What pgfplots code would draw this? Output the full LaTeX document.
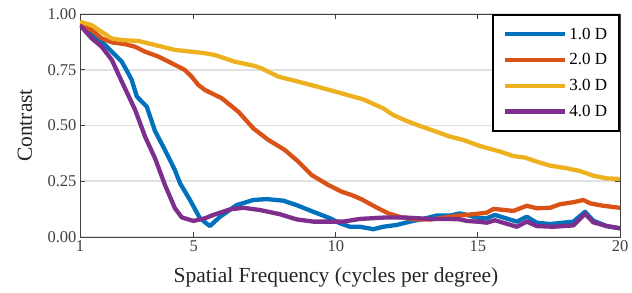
\documentclass[border=0pt]{standalone}
\usepackage{fontspec}
\setmainfont{Liberation Serif}
\usepackage{pgfplots}
\pgfplotsset{compat=1.18}
\definecolor{mblue}{rgb}{0,0.447,0.741}
\definecolor{morange}{rgb}{0.851,0.325,0.098}
\definecolor{myellow}{rgb}{0.929,0.694,0.125}
\definecolor{mpurple}{rgb}{0.494,0.184,0.556}
\definecolor{axgray}{RGB}{64,64,64}
\definecolor{gridgray}{RGB}{225,225,225}
\begin{document}
\begin{tikzpicture}
\begin{axis}[
  name=ax,
  scale only axis,
  width=540pt, height=223pt,
  xmin=1, xmax=20, ymin=0, ymax=1,
  xtick={1,5,10,15,20},
  ytick={0,0.25,0.5,0.75,1},
  xticklabel={\pgfmathprintnumber[assume math mode=true]{\tick}},
  yticklabel={\pgfmathprintnumber[assume math mode=true,fixed,fixed zerofill,precision=2]{\tick}},
  tick align=inside,
  major tick length=5pt,
  axis line style={axgray, line width=0.8pt},
  every tick/.style={axgray, line width=0.8pt},
  ymajorgrids,
  major grid style={gridgray, line width=1.6pt},
  tick label style={font=\fontsize{16.5}{19}\selectfont, text=axgray},
  xlabel={Spatial Frequency (cycles per degree)},
  ylabel={Contrast},
  every axis x label/.style={at={(axis description cs:0.474,-0.18)}, anchor=center, font=\fontsize{21.5}{25}\selectfont, text=black!85},
  every axis y label/.style={at={(axis description cs:-0.102,0.5)}, rotate=90, anchor=center, font=\fontsize{21.5}{25}\selectfont, text=black!85},
  legend style={at={(1,1)}, anchor=north east, draw=black, line width=1.6pt,
    font=\fontsize{17}{20}\selectfont, inner xsep=10pt, inner ysep=11pt,
    row sep=9pt, cells={anchor=west}},
  legend image code/.code={\draw[#1, line width=4.3pt] (0pt,0pt) -- (60pt,0pt);},
  every axis plot/.append style={line width=4.3pt, line join=round},
]
\addplot[mblue] coordinates {(1,0.95)(1.41,0.906)(1.76,0.876)(2.12,0.831)(2.47,0.786)(2.7,0.734)(2.82,0.704)(3.0,0.63)(3.35,0.584)(3.64,0.475)(3.99,0.39)(4.34,0.30)(4.52,0.241)(4.87,0.166)(5.22,0.084)(5.57,0.049)(5.93,0.091)(6.51,0.143)(7.1,0.166)(7.57,0.17)(8.15,0.163)(8.62,0.143)(9.21,0.113)(9.8,0.084)(10.15,0.061)(10.5,0.046)(10.85,0.046)(11.32,0.035)(11.67,0.046)(12.14,0.054)(12.61,0.069)(13.08,0.081)(13.55,0.096)(14.02,0.096)(14.37,0.106)(14.61,0.099)(15.07,0.084)(15.31,0.084)(15.6,0.099)(16.37,0.069)(16.72,0.091)(17.07,0.064)(17.54,0.058)(18.36,0.069)(18.77,0.113)(19.06,0.073)(19.53,0.049)(20,0.039)};
\addlegendentry{1.0 D}
\addplot[morange] coordinates {(1,0.95)(1.41,0.928)(1.76,0.891)(2.12,0.873)(2.58,0.865)(2.94,0.853)(3.29,0.831)(3.76,0.809)(4.23,0.779)(4.69,0.749)(4.93,0.719)(5.16,0.682)(5.4,0.659)(5.99,0.622)(6.57,0.562)(7.1,0.487)(7.63,0.435)(8.21,0.39)(8.68,0.338)(9.15,0.278)(9.74,0.233)(10.21,0.203)(10.56,0.188)(10.91,0.169)(11.38,0.136)(11.85,0.106)(12.32,0.088)(12.79,0.079)(13.37,0.079)(14.19,0.094)(14.9,0.103)(15.31,0.109)(15.55,0.126)(16.25,0.117)(16.72,0.14)(17.07,0.129)(17.54,0.131)(17.89,0.147)(18.36,0.156)(18.71,0.166)(18.95,0.151)(19.41,0.14)(20,0.131)};
\addlegendentry{2.0 D}
\addplot[myellow] coordinates {(1,0.965)(1.41,0.95)(1.76,0.92)(2.12,0.89)(2.47,0.883)(3.05,0.879)(3.64,0.861)(4.34,0.839)(4.93,0.831)(5.4,0.824)(5.75,0.816)(6.45,0.786)(7.15,0.767)(7.39,0.756)(7.98,0.719)(8.45,0.704)(9.27,0.677)(10.21,0.644)(10.97,0.617)(11.67,0.577)(12.02,0.547)(12.5,0.52)(12.96,0.498)(13.43,0.477)(14.02,0.45)(14.49,0.435)(15.07,0.408)(15.78,0.383)(16.25,0.363)(16.66,0.356)(17.07,0.338)(17.54,0.32)(18.13,0.308)(18.59,0.296)(19.06,0.275)(19.53,0.263)(20,0.26)};
\addlegendentry{3.0 D}
\addplot[mpurple] coordinates {(1,0.95)(1.41,0.891)(1.76,0.854)(2.12,0.794)(2.47,0.697)(2.94,0.57)(3.29,0.45)(3.64,0.353)(3.99,0.233)(4.34,0.129)(4.58,0.088)(4.99,0.072)(5.4,0.084)(5.69,0.099)(6.28,0.124)(6.75,0.131)(7.33,0.121)(8.04,0.102)(8.62,0.079)(9.21,0.069)(9.68,0.069)(10.26,0.069)(10.85,0.081)(11.67,0.087)(12.49,0.087)(13.31,0.081)(14.02,0.081)(14.37,0.079)(14.61,0.072)(15.07,0.068)(15.31,0.064)(15.6,0.075)(16.37,0.046)(16.72,0.069)(17.07,0.049)(17.66,0.046)(18.36,0.052)(18.77,0.104)(19.06,0.066)(19.53,0.049)(20,0.039)};
\addlegendentry{4.0 D}
\end{axis}
\path ([shift={(-80pt,-55pt)}]ax.south west) rectangle ([shift={(12pt,14pt)}]ax.north east);
\end{tikzpicture}
\end{document}
